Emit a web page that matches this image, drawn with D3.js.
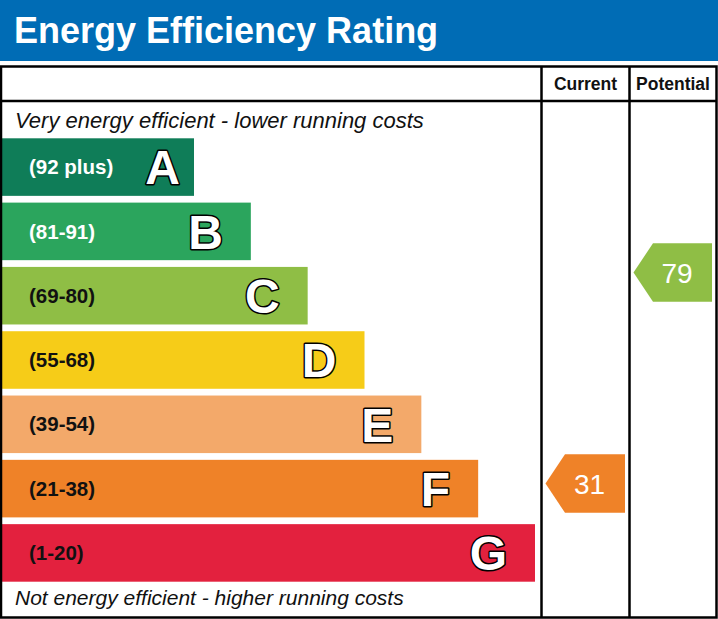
<!DOCTYPE html>
<html>
<head>
<meta charset="utf-8">
<script src="https://cdn.jsdelivr.net/npm/d3@7"></script>
<style>
  body { margin: 0; background: #fff; }
  text { font-family: "Liberation Sans", Arial, sans-serif; }
</style>
</head>
<body>
<div id="chart"></div>
<script>
const width = 718
const height = 619

// data
const bands = ['A', 'B', 'C', 'D', 'E', 'F', 'G']
const ranges = ['(92 plus)', '(81-91)', '(69-80)', '(55-68)', '(39-54)', '(21-38)', '(1-20)']
const columns = ['Current', 'Potential']
const ratings = [31, 79]

// styles
const colors = ['#0f7d58', '#2ba55d', '#8fbe45', '#f6cc18', '#f3a96a', '#ef8228', '#e3213e']
const labelColors = ['#fff', '#fff', '#111', '#111', '#111', '#111', '#111']

const table = { left: 1, right: 716.5, top: 66.5, header: 101, bottom: 617.5 }
const colEdges = [541.5, 629.5, 716.5]

const y_scale = d3.scaleBand()
  .domain(bands)
  .range([138.3, 581.7])
  .paddingInner(0.105)
  .paddingOuter(0)
const x_scale = d3.scaleLinear()
  .domain([0, bands.length - 1])
  .range([194, 535])
const color_scale = d3.scaleOrdinal().domain(bands).range(colors)
const label_scale = d3.scaleOrdinal().domain(bands).range(labelColors)
// arrow position follows the rating value
const rating_scale = d3.scaleLinear().domain([0, 100]).range([619.8, 180.2])

const svg = d3.select('#chart')
  .append('svg')
    .attr('width', width)
    .attr('height', height)

// title bar
svg.append('rect')
  .attr('x', 0).attr('y', 0)
  .attr('width', width).attr('height', 61)
  .attr('fill', '#006cb5')
svg.append('text')
  .attr('x', 14).attr('y', 43)
  .attr('fill', '#fff')
  .attr('font-size', 36)
  .attr('font-weight', 'bold')
  .text('Energy Efficiency Rating')

// bars
const rows = svg.append('g')
  .selectAll('g')
  .data(bands)
  .enter().append('g')

rows.append('rect')
  .attr('x', 2)
  .attr('y', d => y_scale(d))
  .attr('width', (d, i) => x_scale(i) - 2)
  .attr('height', y_scale.bandwidth())
  .attr('fill', d => color_scale(d))

rows.append('text')
  .attr('x', 29)
  .attr('y', d => y_scale(d) + y_scale.bandwidth() / 2)
  .attr('dy', '0.35em')
  .attr('font-size', 20.5)
  .attr('font-weight', 'bold')
  .attr('fill', d => label_scale(d))
  .text((d, i) => ranges[i])

rows.append('text')
  .attr('x', (d, i) => x_scale(i) - (i === 0 ? 14 : 28))
  .attr('y', d => y_scale(d) + y_scale.bandwidth() / 2)
  .attr('dy', '0.36em')
  .attr('text-anchor', 'end')
  .attr('font-size', 48)
  .attr('font-weight', 'bold')
  .attr('fill', '#fff')
  .attr('stroke', '#000')
  .attr('stroke-width', 3)
  .attr('paint-order', 'stroke')
  .attr('stroke-linejoin', 'round')
  .text(d => d)

// captions
svg.append('text')
  .attr('x', 15).attr('y', 128)
  .attr('font-size', 22)
  .attr('font-style', 'italic')
  .attr('fill', '#111')
  .text('Very energy efficient - lower running costs')
svg.append('text')
  .attr('x', 15).attr('y', 605)
  .attr('font-size', 21)
  .attr('font-style', 'italic')
  .attr('fill', '#111')
  .text('Not energy efficient - higher running costs')

// rating arrows
const tip = 19.5
const arrows = svg.append('g')
  .selectAll('g')
  .data(ratings)
  .enter().append('g')

arrows.append('path')
  .attr('d', (d, i) => {
    const x0 = colEdges[i] + 4
    const x1 = colEdges[i + 1] - 4.5
    const yc = rating_scale(d)
    const h = y_scale.bandwidth() / 2 + 0.5
    return `M${x0},${yc}L${x0 + tip},${yc - h}L${x1},${yc - h}L${x1},${yc + h}L${x0 + tip},${yc + h}Z`
  })
  .attr('fill', d => color_scale(bands.find((b, j) => d >= +ranges[j].match(/\d+/)[0])))

arrows.append('text')
  .attr('x', (d, i) => (colEdges[i] + colEdges[i + 1]) / 2 + 4)
  .attr('y', d => rating_scale(d))
  .attr('dy', '0.36em')
  .attr('text-anchor', 'middle')
  .attr('font-size', 28)
  .attr('fill', '#fff')
  .text(d => d)

// table grid
const grid = svg.append('g')
  .attr('stroke', '#000')
  .attr('stroke-width', 2.5)
  .attr('fill', 'none')
grid.append('rect')
  .attr('x', table.left).attr('y', table.top)
  .attr('width', table.right - table.left)
  .attr('height', table.bottom - table.top)
grid.append('line')
  .attr('x1', table.left).attr('x2', table.right)
  .attr('y1', table.header).attr('y2', table.header)
grid.selectAll('.col')
  .data(colEdges.slice(0, 2))
  .enter().append('line')
    .attr('x1', d => d).attr('x2', d => d)
    .attr('y1', table.top).attr('y2', table.bottom)

// column headers
svg.append('g')
  .selectAll('text')
  .data(columns)
  .enter().append('text')
    .attr('x', (d, i) => (colEdges[i] + colEdges[i + 1]) / 2)
    .attr('y', 89.5)
    .attr('text-anchor', 'middle')
    .attr('font-size', 17.5)
    .attr('font-weight', 'bold')
    .attr('fill', '#111')
    .text(d => d)
</script>
</body>
</html>
